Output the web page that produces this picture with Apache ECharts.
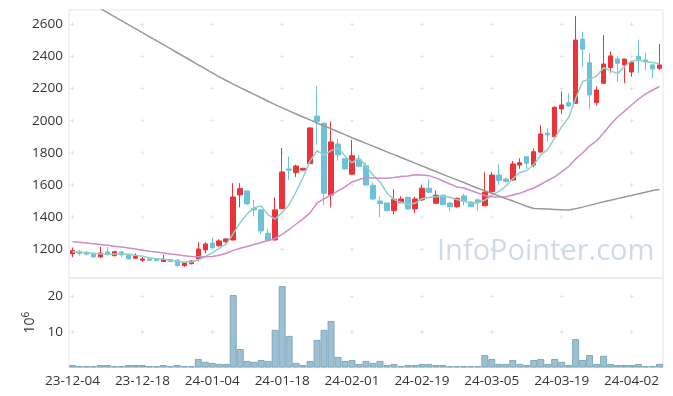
<!DOCTYPE html>
<html><head><meta charset="utf-8">
<script src="https://cdn.jsdelivr.net/npm/echarts@6/dist/echarts.min.js"></script>
<style>html,body{margin:0;padding:0;background:#fff}#c{width:673px;height:396px}</style>
</head><body><div id="c"></div>
<script>
const dates = ['23-12-04','23-12-05','23-12-06','23-12-07','23-12-08','23-12-11','23-12-12','23-12-13','23-12-14','23-12-15',
'23-12-18','23-12-19','23-12-20','23-12-21','23-12-22','23-12-26','23-12-27','23-12-28','24-01-02','24-01-03',
'24-01-04','24-01-05','24-01-08','24-01-09','24-01-10','24-01-11','24-01-12','24-01-15','24-01-16','24-01-17',
'24-01-18','24-01-19','24-01-22','24-01-23','24-01-24','24-01-25','24-01-26','24-01-29','24-01-30','24-01-31',
'24-02-01','24-02-02','24-02-05','24-02-06','24-02-07','24-02-08','24-02-13','24-02-14','24-02-15','24-02-16',
'24-02-19','24-02-20','24-02-21','24-02-22','24-02-23','24-02-26','24-02-27','24-02-28','24-02-29','24-03-04',
'24-03-05','24-03-06','24-03-07','24-03-08','24-03-11','24-03-12','24-03-13','24-03-14','24-03-15','24-03-18',
'24-03-19','24-03-20','24-03-21','24-03-22','24-03-25','24-03-26','24-03-27','24-03-28','24-03-29','24-04-01',
'24-04-02','24-04-03','24-04-04','24-04-05','24-04-08'];

const opens = [1171,1185,1181,1169,1152,1183,1160,1183,1169,1144,
1132,1140,1140,1123,1136,1132,1098,1110,1140,1196,
1239,1222,1247,1258,1538,1563,1455,1445,1300,1258,
1453,1700,1677,1693,1733,2029,1984,1538,1855,1764,
1667,1755,1720,1598,1500,1488,1440,1490,1523,1451,
1507,1580,1486,1536,1488,1465,1532,1494,1507,1471,
1558,1662,1637,1631,1724,1776,1724,1805,1922,1900,
2073,2112,2108,2508,2361,2112,2233,2330,2384,2347,
2303,2401,2378,2347,2326];
const closes = [1191,1173,1169,1152,1177,1170,1185,1165,1140,1156,
1140,1132,1130,1135,1123,1098,1115,1127,1202,1233,
1210,1252,1264,1525,1577,1482,1445,1314,1254,1445,
1681,1692,1718,1704,1955,1996,1548,1868,1787,1700,
1782,1714,1600,1513,1484,1440,1511,1513,1451,1513,
1580,1555,1536,1477,1465,1517,1500,1465,1492,1556,
1662,1627,1621,1731,1738,1735,1807,1917,1911,2083,
2098,2092,2502,2444,2160,2191,2353,2403,2357,2384,
2363,2374,2365,2322,2347];
const lows = [1150,1160,1162,1148,1146,1160,1155,1150,1137,1140,
1121,1127,1127,1123,1120,1090,1090,1105,1123,1175,
1205,1216,1237,1254,1461,1478,1407,1295,1245,1254,
1450,1631,1650,1690,1730,1849,1476,1461,1750,1695,
1665,1714,1598,1505,1399,1436,1418,1485,1447,1424,
1500,1550,1486,1474,1438,1458,1473,1465,1440,1468,
1550,1600,1615,1625,1700,1700,1710,1800,1870,1900,
2042,2085,2105,2336,2073,2095,2233,2299,2243,2233,
2274,2295,2316,2264,2316];
const highs = [1210,1195,1190,1172,1214,1214,1190,1187,1172,1175,
1160,1145,1145,1165,1140,1136,1120,1132,1244,1244,
1273,1262,1268,1611,1611,1566,1507,1450,1325,1524,
1830,1776,1727,1706,1960,2216,1990,1994,1890,1768,
1880,1786,1740,1615,1527,1488,1573,1530,1527,1527,
1600,1636,1565,1542,1496,1522,1545,1498,1517,1679,
1680,1731,1645,1749,1766,1776,1828,1973,1953,2090,
2181,2170,2652,2552,2420,2215,2533,2430,2399,2384,
2370,2502,2423,2350,2477];

const volumes = [0.7,0.4,0.4,0.4,0.7,0.7,0.4,0.4,0.7,0.7,
0.7,0.4,0.4,0.7,0.4,0.7,0.4,0.4,2.4,1.6,
1.3,1.0,1.0,20.4,5.2,1.85,1.6,2.1,1.85,10.6,
22.9,8.9,1.3,0.7,1.85,7.75,10.6,13.1,3.0,1.85,
2.1,1.0,1.85,1.3,1.85,0.7,1.0,0.4,0.7,0.7,
1.0,1.0,0.7,0.7,0.4,0.4,0.4,0.4,0.4,3.5,
2.4,1.0,1.0,2.1,1.0,0.7,2.1,2.4,1.0,2.4,
1.6,0.7,8.0,2.1,3.5,1.0,3.3,1.0,0.7,0.7,
0.7,1.0,0.4,0.4,1.0];

const ma5 = [1185,1181,1178,1175,1172,1168,1171,1170,1167,1163,
1157,1147,1140,1139,1132,1124,1120,1120,1133,1155,
1177,1205,1232,1297,1366,1420,1459,1469,1414,1388,
1428,1477,1558,1648,1750,1813,1784,1814,1831,1780,
1737,1770,1717,1662,1619,1550,1510,1492,1480,1486,
1514,1522,1527,1532,1523,1510,1499,1485,1488,1506,
1535,1560,1592,1639,1676,1690,1726,1786,1822,1891,
1963,2020,2137,2244,2259,2278,2330,2310,2293,2338,
2372,2376,2369,2362,2354];
const ma20 = [1247,1244,1239,1234,1230,1225,1219,1214,1208,1202,
1194,1188,1183,1177,1171,1165,1160,1155,1154,1154,
1155,1163,1175,1193,1206,1217,1230,1242,1255,1267,
1292,1323,1357,1389,1426,1488,1513,1538,1563,1588,
1619,1634,1646,1644,1642,1642,1647,1653,1656,1664,
1662,1658,1644,1625,1606,1588,1581,1566,1550,1535,
1527,1525,1527,1538,1548,1566,1581,1603,1628,1650,
1681,1715,1762,1799,1843,1874,1924,1976,2023,2060,
2098,2135,2166,2191,2213];
const ma60 = [2798,2773,2748,2723,2698,2673,2648,2623,2598,2573,
2548,2523,2498,2473,2448,2423,2398,2373,2348,2323,
2298,2273,2250,2228,2206,2185,2164,2143,2121,2100,
2080,2061,2042,2023,2005,1986,1968,1950,1931,1913,
1894,1877,1859,1842,1824,1806,1789,1771,1754,1736,
1719,1701,1684,1666,1649,1632,1615,1597,1580,1564,
1548,1532,1516,1500,1484,1468,1454,1452,1450,1448,
1446,1444,1452,1462,1473,1484,1495,1505,1515,1525,
1535,1545,1555,1565,1572];

const priceTicks = [1200,1400,1600,1800,2000,2200,2400,2600];
const volumeTicks = [10,20];
const labelEvery = 10;

const candleData = opens.map((o, i) => [o, closes[i], lows[i], highs[i]]);
const tickIdx = dates.map((d, i) => i).filter(i => i % labelEvery === 0);
const crossPrice = [];
tickIdx.forEach(i => priceTicks.forEach(v => crossPrice.push([i, v])));
const crossVol = [];
tickIdx.forEach(i => volumeTicks.forEach(v => crossVol.push([i, v])));

const UP = '#ec3339', DOWN = '#6cc3d9';
const plus = 'path://M1.6,0L2.4,0L2.4,4L1.6,4Z M0,1.6L4,1.6L4,2.4L0,2.4Z';
const font = "'Open Sans', 'Noto Sans', sans-serif";
const plain = (v) => String(v);

const chart = echarts.init(document.getElementById('c'), null, {renderer: 'canvas'});
chart.setOption({
  animation: false,
  textStyle: {fontFamily: font},
  grid: [
    {left: 69, right: 10, top: 10, height: 268, show: true, borderColor: '#e6e6e6', borderWidth: 1, backgroundColor: 'transparent'},
    {left: 69, right: 10, top: 278, height: 89.5, show: true, borderColor: '#e6e6e6', borderWidth: 1, backgroundColor: 'transparent'}
  ],
  graphic: [{
    type: 'text', left: 437, top: 237, z: 0, silent: true,
    style: {text: 'InfoPointer.com', fontSize: 29, fontFamily: font, fill: '#cddbe5'}
  }],
  xAxis: [
    {type: 'category', gridIndex: 0, data: dates, boundaryGap: true,
     axisLine: {show: false}, axisTick: {show: false}, axisLabel: {show: false}, splitLine: {show: false}},
    {type: 'category', gridIndex: 1, data: dates, boundaryGap: true,
     axisLine: {show: false}, axisTick: {show: false}, splitLine: {show: false},
     axisLabel: {interval: (i) => i % labelEvery === 0, color: '#333', fontSize: 13.5, margin: 7, fontFamily: font}}
  ],
  yAxis: [
    {type: 'value', gridIndex: 0, min: 1021, max: 2689, scale: true,
     axisLine: {show: false}, axisTick: {show: false, customValues: priceTicks}, splitLine: {show: false},
     axisLabel: {customValues: priceTicks, formatter: plain, color: '#333', fontSize: 13.5, margin: 6, fontFamily: font}},
    {type: 'value', gridIndex: 1, min: 0, max: 25.2,
     axisLine: {show: false}, axisTick: {show: false, customValues: volumeTicks}, splitLine: {show: false},
     axisLabel: {customValues: volumeTicks, formatter: plain, color: '#333', fontSize: 13.5, margin: 6, fontFamily: font},
     name: '{a|10}{b|6}', nameLocation: 'middle', nameRotate: 90, nameGap: 29,
     nameTextStyle: {rich: {a: {fontSize: 14, color: '#333', fontFamily: font, lineHeight: 18},
                            b: {fontSize: 10, color: '#333', fontFamily: font, lineHeight: 18, verticalAlign: 'top', padding: [0, 0, 6, 0]}}}}
  ],
  series: [
    {type: 'scatter', xAxisIndex: 0, yAxisIndex: 0, data: crossPrice, symbol: plus, symbolSize: 4,
     itemStyle: {color: '#d6d6d6'}, silent: true, z: 1},
    {type: 'scatter', xAxisIndex: 1, yAxisIndex: 1, data: crossVol, symbol: plus, symbolSize: 4,
     itemStyle: {color: '#d6d6d6'}, silent: true, z: 1},
    {type: 'candlestick', xAxisIndex: 0, yAxisIndex: 0, data: candleData, barWidth: 5, z: 3,
     itemStyle: {color: UP, color0: DOWN, borderColor: UP, borderColor0: DOWN, borderWidth: 1}},
    {type: 'line', xAxisIndex: 0, yAxisIndex: 0, data: ma5, showSymbol: false, clip: true, z: 4,
     lineStyle: {color: '#8fd1c7', width: 1.5}},
    {type: 'line', xAxisIndex: 0, yAxisIndex: 0, data: ma20, showSymbol: false, clip: true, z: 4,
     lineStyle: {color: '#cc8dc8', width: 1.5}},
    {type: 'line', xAxisIndex: 0, yAxisIndex: 0, data: ma60, showSymbol: false, clip: true, z: 4,
     lineStyle: {color: '#999999', width: 1.5}},
    {type: 'bar', xAxisIndex: 1, yAxisIndex: 1, data: volumes, barCategoryGap: '0%', z: 3,
     itemStyle: {color: '#9cc0d1', borderColor: '#7fa8bc', borderWidth: 1}}
  ]
});
</script></body></html>
